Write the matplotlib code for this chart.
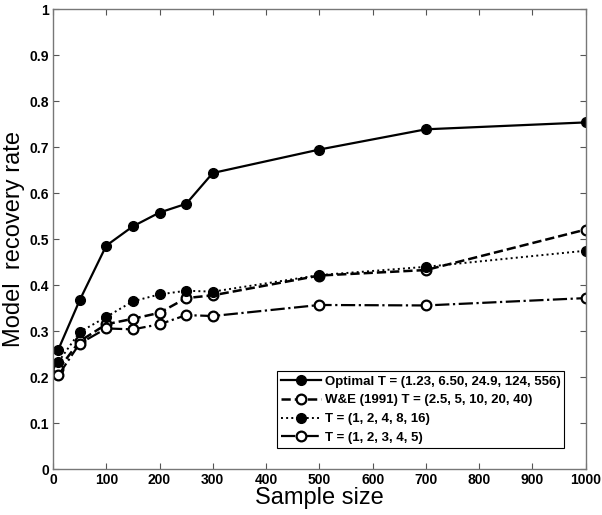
import matplotlib.pyplot as plt

plt.rcParams['font.family'] = ['Liberation Sans', 'DejaVu Sans']

# sample sizes on the x axis
sample_size = [10, 50, 100, 150, 200, 250, 300, 500, 700, 1000]

# model recovery rate for each design
optimal = [0.260, 0.367, 0.486, 0.528, 0.558, 0.577, 0.644, 0.695, 0.739, 0.754]
we_1991 = [0.217, 0.278, 0.315, 0.327, 0.340, 0.372, 0.378, 0.421, 0.433, 0.521]
t_doubling = [0.233, 0.298, 0.331, 0.365, 0.380, 0.388, 0.386, 0.422, 0.440, 0.475]
t_linear = [0.204, 0.273, 0.306, 0.304, 0.315, 0.335, 0.333, 0.357, 0.356, 0.372]

labels = ['Optimal T = (1.23, 6.50, 24.9, 124, 556)',
          'W&E (1991) T = (2.5, 5, 10, 20, 40)',
          'T = (1, 2, 4, 8, 16)',
          'T = (1, 2, 3, 4, 5)']

fig = plt.figure(figsize=(6.02, 5.15), dpi=100)
ax = fig.add_axes([0.088, 0.089, 0.885, 0.893])

ms = 7
ax.plot(sample_size, optimal, '-', color='black', lw=1.6, marker='o', ms=ms,
        mfc='black', mec='black', label=labels[0])
ax.plot(sample_size, we_1991, '--', color='black', lw=1.8, marker='o', ms=ms,
        mfc='white', mec='black', mew=1.6, label=labels[1])
ax.plot(sample_size, t_doubling, ':', color='black', lw=1.4, marker='o', ms=ms,
        mfc='black', mec='black', label=labels[2])
ax.plot(sample_size, t_linear, '-.', color='black', lw=1.6, marker='o', ms=ms,
        mfc='white', mec='black', mew=1.6, label=labels[3])

ax.set_xlim(0, 1000)
ax.set_ylim(0, 1)
ax.set_xticks(range(0, 1001, 100))
ax.set_yticks([i / 10 for i in range(11)])
ax.set_yticklabels(['0', '0.1', '0.2', '0.3', '0.4', '0.5', '0.6', '0.7', '0.8', '0.9', '1'])
ax.tick_params(direction='in', top=True, right=True, length=4, width=0.8,
               color='#555555', labelsize=10, pad=3)
for lbl in ax.get_xticklabels() + ax.get_yticklabels():
    lbl.set_fontweight('bold')
for sp in ax.spines.values():
    sp.set_color('#777777')
    sp.set_linewidth(1.0)

ax.set_xlabel('Sample size', fontsize=17, labelpad=0)
ax.set_ylabel('Model  recovery rate', fontsize=17, labelpad=3)

leg = ax.legend(loc='lower right', bbox_to_anchor=(0.96, 0.046), borderaxespad=0,
                fancybox=False, framealpha=1, edgecolor='black', fontsize=9.5,
                handlelength=3.0, handletextpad=0.3, labelspacing=0.5,
                borderpad=0.3)
leg.get_frame().set_linewidth(0.8)
for t in leg.get_texts():
    t.set_fontweight('bold')

fig.savefig('out.png', dpi=100)
